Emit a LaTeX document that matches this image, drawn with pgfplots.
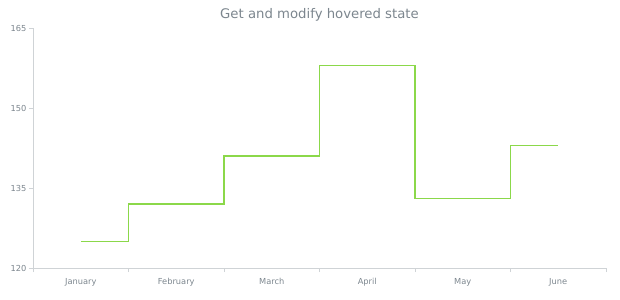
\documentclass[border=0pt]{standalone}
\usepackage{pgfplots}
\pgfplotsset{compat=1.18}
\usepackage{fontspec}
\setmainfont{DejaVu Sans}
\definecolor{linegreen}{HTML}{8BD84A}
\definecolor{axgray}{HTML}{CFD3D6}
\definecolor{txtgray}{HTML}{7C868E}
\begin{document}
\begin{tikzpicture}[x=1bp,y=1bp]
\begin{axis}[
  at={(33bp,32bp)}, anchor=south west,
  scale only axis, width=573bp, height=240bp,
  xmin=-0.5, xmax=5.5, ymin=120, ymax=165,
  axis x line*=bottom, axis y line*=left,
  axis line style={draw=axgray, line width=0.8pt},
  xtick={0,...,5},
  xticklabels={January,February,March,April,May,June},
  major x tick style={draw=none},
  minor xtick={-0.5,0.5,...,5.5},
  minor x tick style={draw=axgray, line width=0.8pt},
  minor tick length=4bp,
  ytick={120,135,150,165},
  y tick style={draw=axgray, line width=0.8pt},
  major tick length=4bp,
  tick align=outside,
  tick label style={font=\fontsize{8.3}{10}\selectfont, text=txtgray},
  /pgf/number format/assume math mode=true,
  xticklabel style={yshift=-3bp},
  yticklabel style={xshift=1bp},
  title={Get and modify hovered state},
  title style={font=\fontsize{13.3}{15}\selectfont, text=txtgray, yshift=-3bp},
  clip=false,
]
\addplot[const plot mark mid, draw=linegreen, line width=1.2pt] coordinates {
  (0,125) (1,132) (2,141) (3,158) (4,133) (5,143)
};
\end{axis}
\pgfresetboundingbox
\path (0,0) rectangle (620bp,300bp);
\end{tikzpicture}
\end{document}
